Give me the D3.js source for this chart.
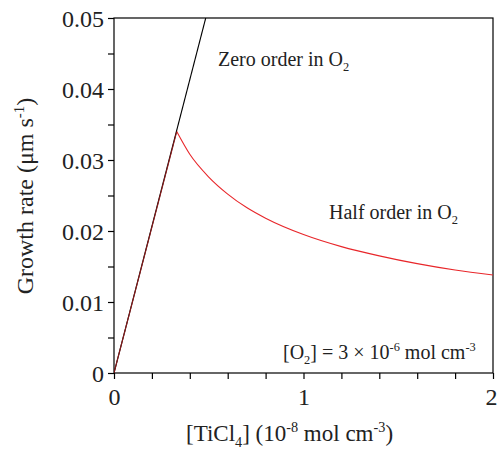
<!DOCTYPE html>
<html><head><meta charset="utf-8">
<script src="https://cdn.jsdelivr.net/npm/d3@7"></script>
<style>body{margin:0;background:#fff}svg{display:block}text{font-family:"Liberation Serif","Times New Roman",Times,serif;fill:#222}</style>
</head><body>
<script>
// Data
const zeroOrderX = [0, 0.484];
const zeroOrderY = [0, 0.05];
const riseX = [0, 0.331];
const riseY = [0, 0.0340];
const halfOrderX = [0.331, 0.4, 0.5, 0.6, 0.7, 0.8, 1.0, 1.2, 1.4, 1.6, 1.8, 2.0];
const halfOrderY = [0.0340, 0.0308, 0.0276, 0.0252, 0.0233, 0.0218, 0.0195, 0.0178, 0.0165, 0.0154, 0.0145, 0.0138];
const xTicks = [0, 1, 2];
const xMinorTicks = [0.2, 0.4, 0.6, 0.8, 1.2, 1.4, 1.6, 1.8];
const yTicks = [0, 0.01, 0.02, 0.03, 0.04, 0.05];
const yMinorTicks = [0.005, 0.015, 0.025, 0.035, 0.045];

const W = 497, H = 449;
const L = 114, R = 493, T = 18, B = 373;
const svg = d3.select("body").append("svg").attr("width", W).attr("height", H);
const x = d3.scaleLinear().domain([0, 2]).range([L, R]);
const y = d3.scaleLinear().domain([0, 0.05]).range([B, T]);

svg.append("defs").append("clipPath").attr("id", "clip")
  .append("rect").attr("x", L).attr("y", T).attr("width", R - L).attr("height", B - T);

// frame
svg.append("rect").attr("x", L).attr("y", T).attr("width", R - L).attr("height", B - T)
  .attr("fill", "none").attr("stroke", "#000").attr("stroke-width", 1.2);

// axes
const xAxis = svg.append("g").attr("transform", `translate(0,${B})`)
  .call(d3.axisBottom(x).tickValues(xTicks).tickSize(6).tickFormat(d3.format("d")));
const xMinor = svg.append("g").attr("transform", `translate(0,${B})`)
  .call(d3.axisBottom(x).tickValues(xMinorTicks).tickSize(6).tickFormat(""));
const yAxis = svg.append("g").attr("transform", `translate(${L},0)`)
  .call(d3.axisLeft(y).tickValues(yTicks).tickSize(6).tickPadding(4)
    .tickFormat(d => d === 0 ? "0" : d3.format(".2f")(d)));
const yMinor = svg.append("g").attr("transform", `translate(${L},0)`)
  .call(d3.axisLeft(y).tickValues(yMinorTicks).tickSize(6).tickFormat(""));
[xAxis, xMinor, yAxis, yMinor].forEach(g => {
  g.attr("font-family", null);
  g.select(".domain").remove();
  g.selectAll(".tick line").attr("stroke", "#000").attr("stroke-width", 1.2);
  g.selectAll("text").attr("font-size", 24).attr("fill", "#222");
});
xAxis.selectAll("text").attr("dy", "0.95em");
xAxis.selectAll(".tick").filter(d => d === 2).select("text").attr("text-anchor", "end").attr("dx", 4);
yAxis.selectAll("text").attr("dy", "0.35em");

// lines
const line = d3.line().x(d => x(d[0])).y(d => y(d[1]));
const g = svg.append("g").attr("clip-path", "url(#clip)");
g.append("path").datum(halfOrderX.map((v, i) => [v, halfOrderY[i]]))
  .attr("d", d3.line().x(d => x(d[0])).y(d => y(d[1])).curve(d3.curveMonotoneX))
  .attr("fill", "none").attr("stroke", "#e8262a").attr("stroke-width", 1.1);
g.append("path").datum(zeroOrderX.map((v, i) => [v, zeroOrderY[i]]))
  .attr("d", line).attr("fill", "none").attr("stroke", "#000").attr("stroke-width", 1.1);
g.append("path").datum(riseX.map((v, i) => [v, riseY[i]]))
  .attr("d", line).attr("fill", "none").attr("stroke", "#8a1a1a").attr("stroke-width", 1.1);

// annotations
function label(xp, yp, parts, size) {
  const t = svg.append("text").attr("x", xp).attr("y", yp).attr("font-size", size);
  parts.forEach(p => {
    const s = t.append("tspan").text(p.t);
    if (p.sub) s.attr("font-size", size * 0.62).attr("dy", size * 0.25);
    if (p.sup) s.attr("font-size", size * 0.62).attr("dy", -size * 0.38);
    if (p.back) s.attr("dy", p.back);
  });
  return t;
}
label(218, 66, [{t: "Zero order in O"}, {t: "2", sub: true}], 20);
label(329, 219, [{t: "Half order in O"}, {t: "2", sub: true}], 20);
label(283, 359, [{t: "[O"}, {t: "2", sub: true}, {t: "] = 3 × 10", back: -20 * 0.25},
  {t: "-6", sup: true}, {t: " mol cm", back: 20 * 0.38}, {t: "-3", sup: true}], 20);

// axis titles
label(186, 441, [{t: "[TiCl"}, {t: "4", sub: true}, {t: "] (10", back: -23 * 0.25},
  {t: "-8", sup: true}, {t: " mol cm", back: 23 * 0.38}, {t: "-3", sup: true}, {t: ")", back: 23 * 0.38}], 23);
label(0, 0, [{t: "Growth rate (μm s"}, {t: "-1", sup: true}, {t: ")", back: 24 * 0.38}], 24)
  .attr("text-anchor", "middle").attr("transform", "translate(33,196) rotate(-90)");
</script>
</body></html>
